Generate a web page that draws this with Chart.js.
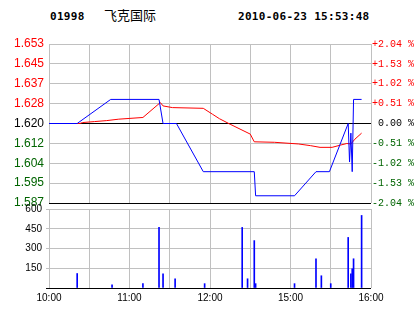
<!DOCTYPE html>
<html>
<head>
<meta charset="utf-8">
<script src="https://cdn.jsdelivr.net/npm/chart.js@4/dist/chart.umd.min.js"></script>
<style>
  body { margin: 0; background: #fff; width: 414px; height: 314px; position: relative; overflow: hidden; }
  .hdr { position: absolute; top: 10px; line-height: 14px; color: #000; white-space: pre; }
  .mono { font: bold 11px 'DejaVu Sans Mono', monospace; letter-spacing: 0.3px; }
  .name { font: 13px 'Noto Sans CJK SC', sans-serif; top: 7px; line-height: 16px; }
  canvas { position: absolute; left: 0; }
</style>
</head>
<body>
<div class="hdr mono" style="left:50px">01998</div>
<div class="hdr name" style="left:104px">飞克国际</div>
<div class="hdr mono" style="left:238px">2010-06-23 15:53:48</div>
<canvas id="price" width="414" height="190" style="top:30px"></canvas>
<canvas id="volume" width="414" height="117" style="top:197px"></canvas>
<script>
// price line (blue) - trade time / price
const priceTimes = ['10:00', '10:21', '10:46', '11:22', '11:25', '11:35', '11:55', '14:33', '14:34',
  '15:03', '15:19', '15:29', '15:43', '15:44', '15:45', '15:46', '15:47', '15:53'];
const priceValues = [1.620, 1.620, 1.630, 1.630, 1.620, 1.620, 1.600, 1.600, 1.590,
  1.590, 1.600, 1.600, 1.620, 1.604, 1.616, 1.600, 1.630, 1.630];

// average price (red)
const avgTimes = ['10:00', '10:23', '10:25', '10:34', '10:43', '10:52', '11:10', '11:23', '11:25',
  '11:32', '11:55', '12:02', '12:07', '12:15', '12:30', '14:33', '14:48', '15:06', '15:15',
  '15:22', '15:31', '15:37', '15:42', '15:45', '15:48', '15:53'];
const avgValues = [1.620, 1.620, 1.6204, 1.6208, 1.6212, 1.6218, 1.6225, 1.6287, 1.6273,
  1.6266, 1.6263, 1.6238, 1.622, 1.6197, 1.6156, 1.6124, 1.6122, 1.6115, 1.6108,
  1.6101, 1.6101, 1.611, 1.6117, 1.6115, 1.6135, 1.616];

// volume bars
const volTimes = ['10:21', '10:47', '11:10', '11:22', '11:25', '11:34', '11:56', '12:24', '12:28',
  '14:33', '14:34', '15:03', '15:19', '15:23', '15:30', '15:43', '15:45', '15:46', '15:47', '15:53'];
const volValues = [110, 25, 33, 460, 108, 70, 33, 460, 70,
  360, 33, 33, 222, 93, 33, 384, 108, 146, 222, 551];

// axis labels
const priceTicks = ['1.587', '1.595', '1.604', '1.612', '1.620', '1.628', '1.637', '1.645', '1.653'];
const pctTicks = ['-2.04 %', '-1.53 %', '-1.02 %', '-0.51 %', ' 0.00 %', '+0.51 %', '+1.02 %', '+1.53 %', '+2.04 %'];
const volTicks = ['', '150', '300', '450', '600'];
const timeTicks = ['10:00', '', '11:00', '', '12:00', '', '15:00', '', '16:00'];

const PRICE_MIN = 1.587;
const PRICE_MAX = 1.653;
const GRID = '#c0c0c0';
const RED = '#ff0000';
const GREEN = '#006400';
const BLUE = '#0000ff';

// minutes since open, lunch break (12:30-14:30) removed
function toMinutes(t) {
  const [h, m] = t.split(':').map(Number);
  const v = h * 60 + m - 600;
  return v >= 270 ? v - 120 : v;
}

const points = (times, values) => times.map((t, i) => ({x: toMinutes(t), y: values[i]}));
const sideColor = (i) => (i > 4 ? RED : i < 4 ? GREEN : '#000');
const evenTicks = (scale, n) => {
  const step = (scale.max - scale.min) / (n - 1);
  scale.ticks = Array.from({length: n}, (_, i) => ({value: scale.min + i * step}));
};

const timeAxis = {
  type: 'linear',
  min: 0,
  max: 240,
  offset: false,
  ticks: {stepSize: 30},
  grid: {color: GRID, drawTicks: false, offset: false},
  border: {display: false},
};

new Chart(document.getElementById('price'), {
  type: 'line',
  data: {
    datasets: [
      {data: points(priceTimes, priceValues), borderColor: BLUE, borderWidth: 1, pointRadius: 0, yAxisID: 'y'},
      {data: points(avgTimes, avgValues), borderColor: RED, borderWidth: 1, pointRadius: 0, yAxisID: 'y'},
    ],
  },
  options: {
    responsive: false,
    animation: false,
    // padding bigger than label overflow so the plot box lands on 44..203
    layout: {padding: {top: 14, bottom: 17, left: 0, right: 0}},
    plugins: {legend: {display: false}, tooltip: {enabled: false}},
    scales: {
      x: {...timeAxis, ticks: {display: false, stepSize: 30}, afterFit: (s) => { s.height = 0; }},
      y: {
        position: 'left',
        min: PRICE_MIN,
        max: PRICE_MAX,
        afterBuildTicks: (s) => evenTicks(s, priceTicks.length),
        ticks: {
          callback: (v, i) => priceTicks[i],
          color: (ctx) => sideColor(ctx.index),
          font: {family: 'Liberation Sans', size: 12},
          padding: 5,
        },
        grid: {color: (ctx) => (ctx.index == 0 || ctx.index == 4 ? '#000' : GRID), drawTicks: false},
        border: {display: false},
        afterFit: (s) => { s.width = 49; },
      },
      y2: {
        position: 'right',
        min: -2.04,
        max: 2.04,
        afterBuildTicks: (s) => evenTicks(s, pctTicks.length),
        ticks: {
          callback: (v, i) => pctTicks[i],
          color: (ctx) => sideColor(ctx.index),
          font: {family: 'Liberation Mono', size: 10},
          padding: 1,
        },
        grid: {display: false, drawTicks: false},
        border: {display: false},
        afterFit: (s) => { s.width = 43; },
      },
    },
  },
});

new Chart(document.getElementById('volume'), {
  type: 'bar',
  data: {
    datasets: [{data: points(volTimes, volValues), backgroundColor: BLUE, barThickness: 1}],
  },
  options: {
    responsive: false,
    animation: false,
    layout: {padding: {top: 12, bottom: 0, left: 0, right: 43}},
    plugins: {legend: {display: false}, tooltip: {enabled: false}},
    scales: {
      x: {
        ...timeAxis,
        ticks: {
          stepSize: 30,
          autoSkip: false,
          maxRotation: 0,
          callback: (v, i) => timeTicks[i],
          color: '#000',
          font: {family: 'Liberation Sans', size: 10},
          padding: 4,
        },
        afterFit: (s) => { s.height = 26; },
      },
      y: {
        min: 0,
        max: 600,
        afterBuildTicks: (s) => evenTicks(s, volTicks.length),
        ticks: {
          callback: (v, i) => volTicks[i],
          color: '#000',
          font: {family: 'Liberation Sans', size: 10},
          padding: 4,
        },
        grid: {color: (ctx) => (ctx.index == 0 ? '#000' : GRID), tickLength: 3},
        border: {display: false},
        afterFit: (s) => { s.width = 49; },
      },
    },
  },
});
</script>
</body>
</html>
